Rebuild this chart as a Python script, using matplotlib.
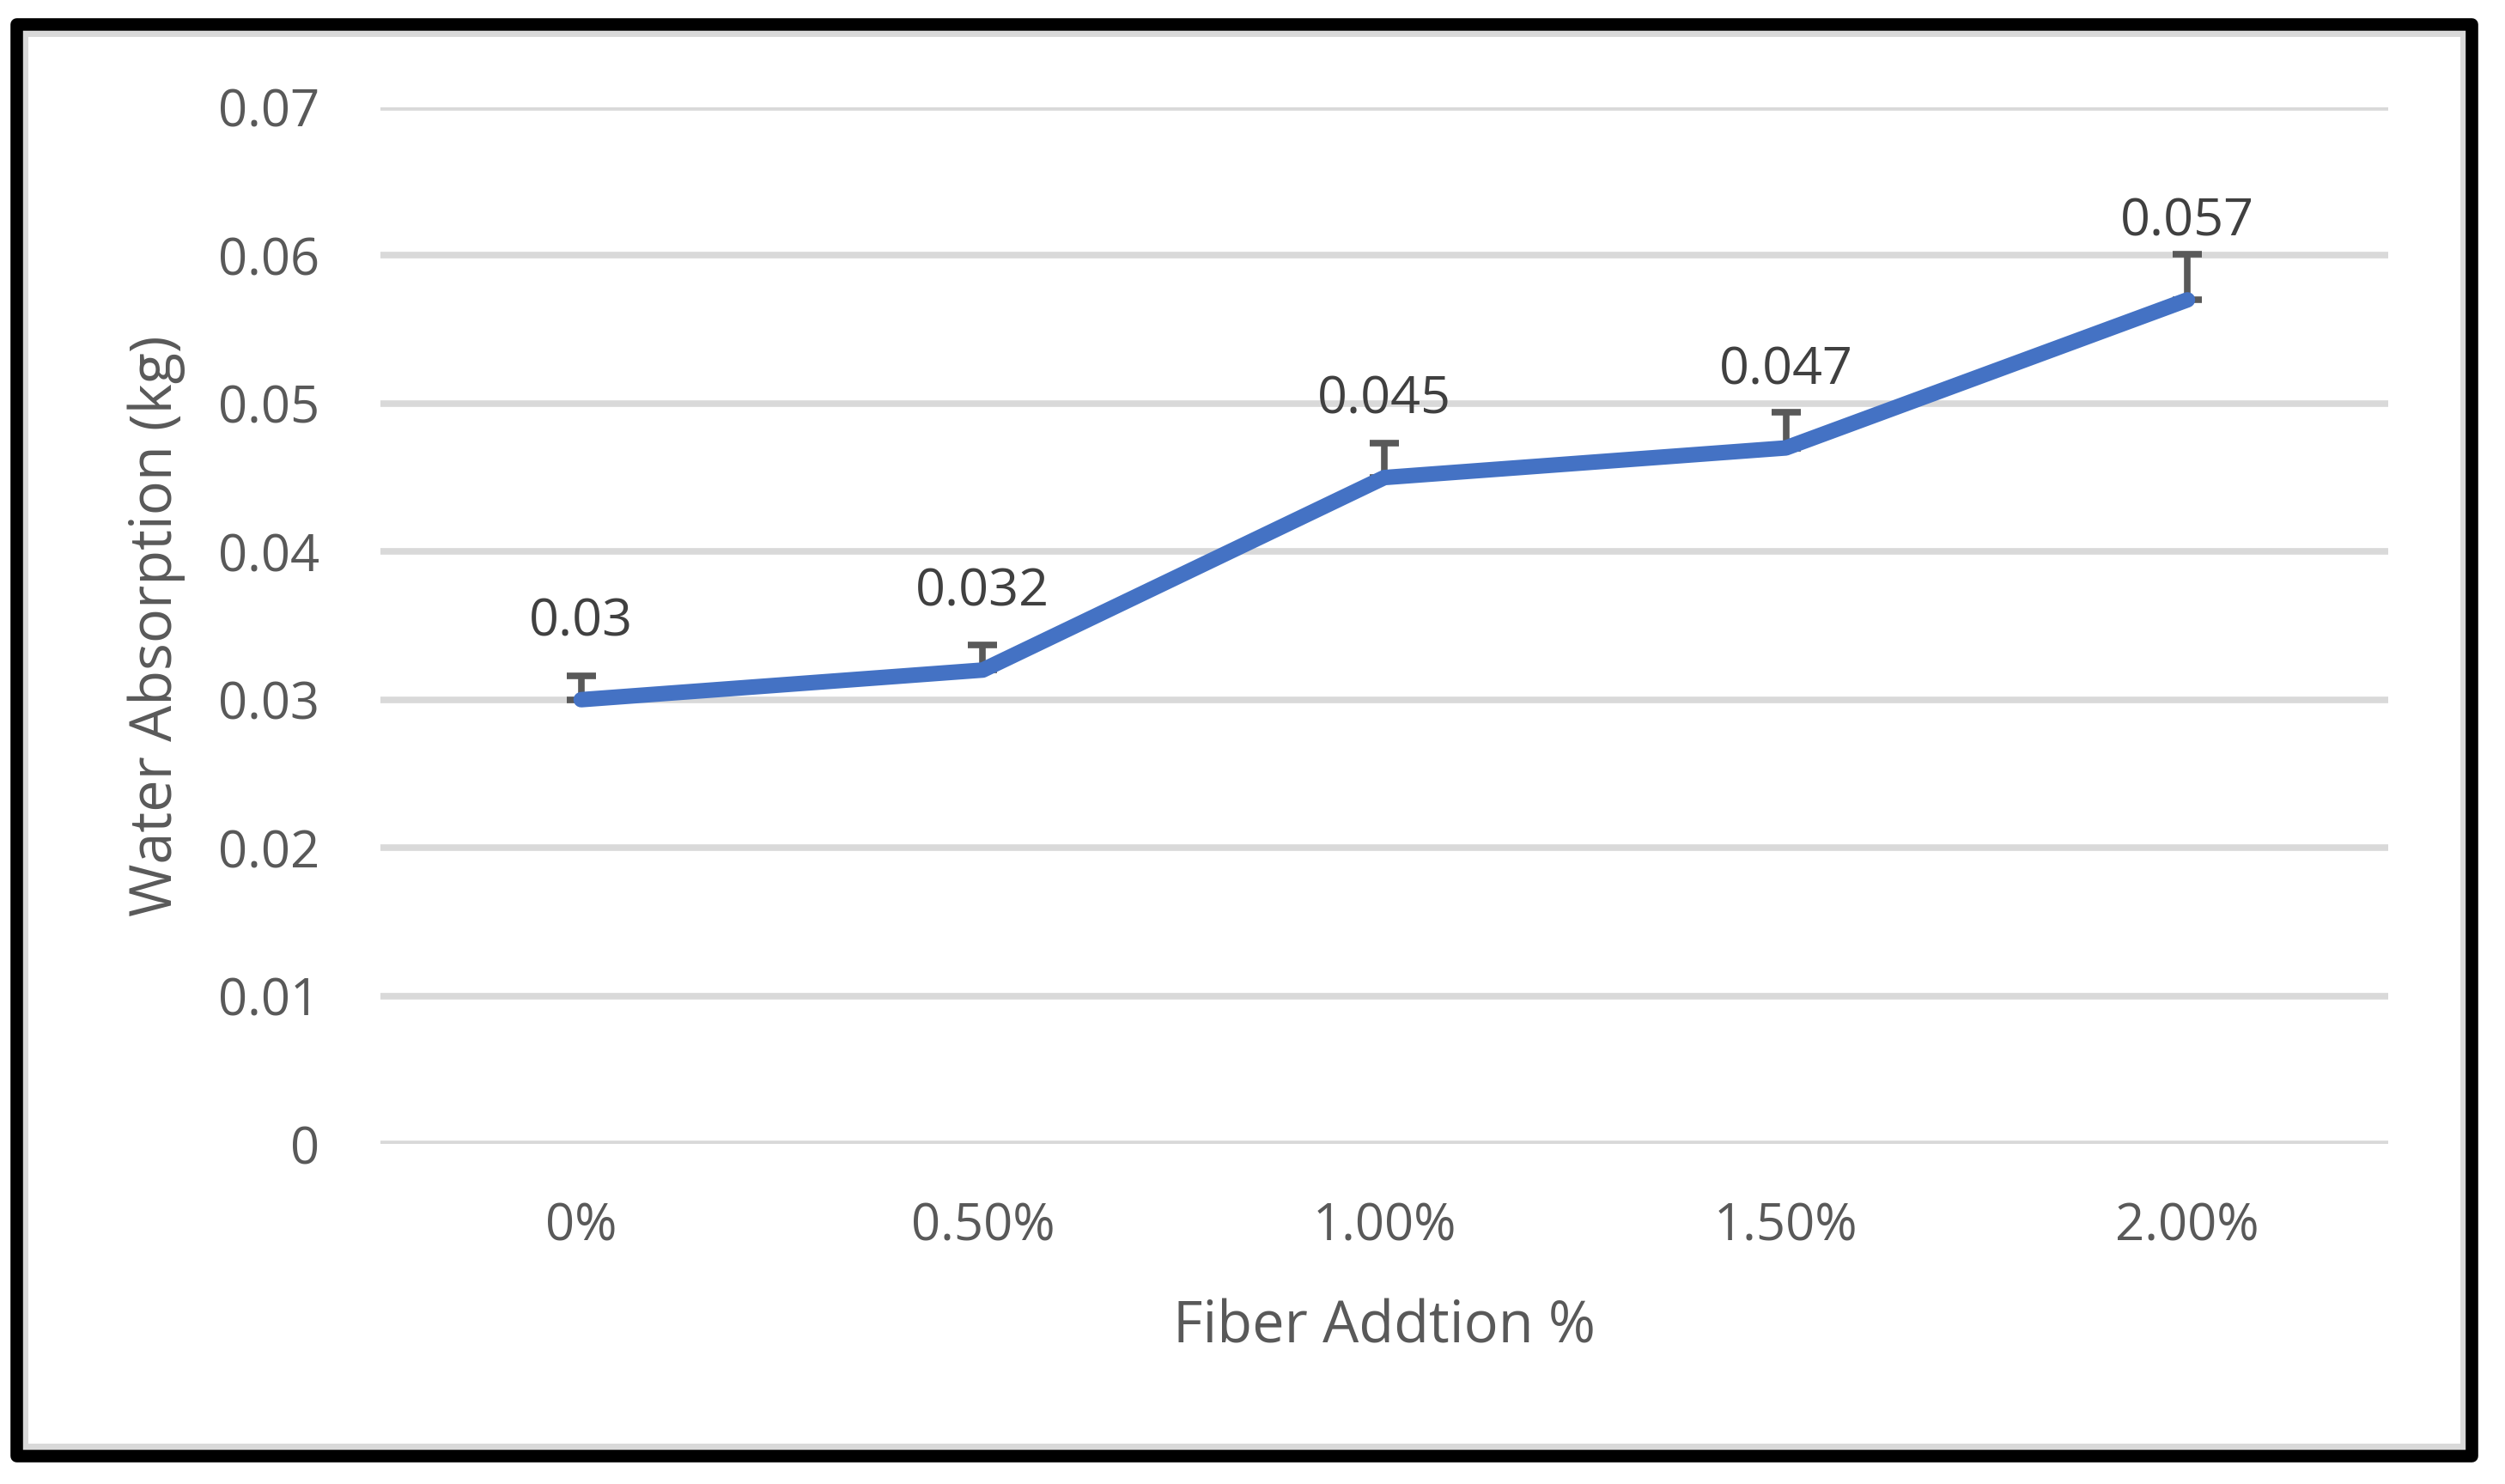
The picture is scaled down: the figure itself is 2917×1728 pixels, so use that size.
"Water absorption vs fiber addition, Excel-style line chart"

import matplotlib.pyplot as plt
from matplotlib.patches import Rectangle

#####
# Data
#####

categories = ["0%", "0.50%", "1.00%", "1.50%", "2.00%"]
absorption = [0.030, 0.032, 0.045, 0.047, 0.057]
upper_err = [0.0016, 0.0017, 0.0023, 0.0024, 0.0031]
yticks = [0, 0.01, 0.02, 0.03, 0.04, 0.05, 0.06, 0.07]
ytick_labels = ["0", "0.01", "0.02", "0.03", "0.04", "0.05", "0.06", "0.07"]

#####
# Figure
#####

W, H, DPI = 2917, 1728, 100
plt.rcParams["font.family"] = ["Open Sans", "DejaVu Sans"]

fig = plt.figure(figsize=(W / DPI, H / DPI), dpi=DPI)
fig.patch.set_facecolor("white")

# plot area in pixels: x 443..2781, y 125..1332 (from top)
left, right, top, bottom = 443, 2781, 125, 1332
ax = fig.add_axes([left / W, 1 - bottom / H, (right - left) / W, (bottom - top) / H])

x = list(range(len(categories)))
ax.plot(x, absorption, color="#4472C4", lw=13, solid_capstyle="round",
        solid_joinstyle="round", zorder=3)
ax.errorbar(x, absorption, yerr=[[0] * len(x), upper_err], fmt="none",
            ecolor="#595959", elinewidth=5.5, capsize=12, capthick=5.5, zorder=2)

for xi, v in zip(x, absorption):
    ax.annotate(f"{v:g}", (xi, v), xytext=(0, 65), textcoords="offset points",
                ha="center", va="center", fontsize=44, color="#404040")

ax.set_xlim(-0.5, len(categories) - 0.5)
ax.set_ylim(0, 0.07)
ax.set_yticks(yticks)
ax.set_yticklabels(ytick_labels)
ax.set_xticks(x)
ax.set_xticklabels(categories)
ax.tick_params(axis="both", length=0, labelsize=43, labelcolor="#595959")
ax.tick_params(axis="y", pad=51)
ax.tick_params(axis="x", pad=48)
ax.grid(axis="y", color="#d9d9d9", lw=5.5)
ax.set_axisbelow(True)
for s in ax.spines.values():
    s.set_visible(False)

ax.set_xlabel("Fiber Addtion %", fontsize=48, color="#595959", va="center")
ax.xaxis.set_label_coords(0.5, (bottom - 1546) / (bottom - top))
ax.set_ylabel("Water Absorption (kg)", fontsize=48, color="#595959", va="center")
ax.yaxis.set_label_coords((182 - left) / (right - left), 0.5)

# chart frame: light gray inner border, heavy black outer border
fig.patches.append(Rectangle((29 / W, 1 - 1684 / H), (2868 - 29) / W, (1684 - 39) / H,
                             transform=fig.transFigure, fill=False,
                             edgecolor="#d9d9d9", lw=5))
fig.patches.append(Rectangle((19 / W, 1 - 1695 / H), (2878 - 19) / W, (1695 - 28) / H,
                             transform=fig.transFigure, fill=False,
                             edgecolor="black", lw=10.5, joinstyle="round"))

fig.savefig("out.png", dpi=DPI, facecolor="white")
